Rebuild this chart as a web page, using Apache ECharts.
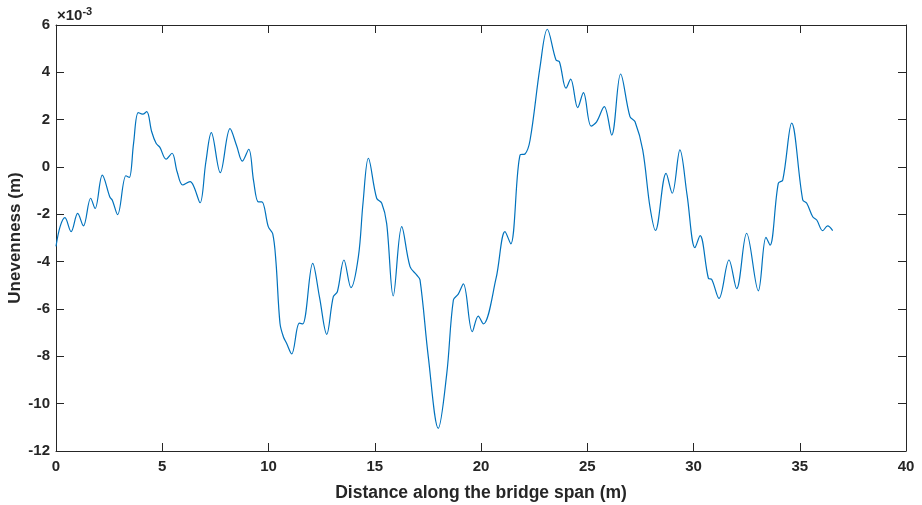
<!DOCTYPE html>
<html>
<head>
<meta charset="utf-8">
<script src="https://cdn.jsdelivr.net/npm/echarts@6/dist/echarts.min.js"></script>
<style>
html,body{margin:0;padding:0;background:#fff;}
#chart{width:922px;height:505px;}
</style>
</head>
<body>
<div id="chart"></div>
<script>
// Distance along the bridge span (m)
const distance = [
  0, 0.2, 0.42, 0.71, 1.02, 1.29, 1.63, 1.84, 2.18, 2.54, 2.65, 2.90, 3.29, 3.45, 3.65, 3.87,
  4.08, 4.27, 4.50, 4.71, 4.89, 5.18, 5.46, 5.70, 5.96, 6.31, 6.49, 6.78, 7.05, 7.31, 7.73,
  8.19, 8.50, 8.77, 9.07, 9.30, 9.52, 9.69, 9.99, 10.2, 10.35, 10.54, 10.70, 10.85, 11.09,
  11.45, 11.61, 12.08, 12.40, 12.74, 13.05, 13.24, 13.55, 13.88, 14.23, 14.45, 14.70, 15.09,
  15.33, 15.56, 15.87, 16.27, 16.66, 16.97, 17.13, 17.52, 17.99, 18.39, 18.70, 18.93, 19.17,
  19.59, 19.87, 20.11, 20.71, 21.13, 21.40, 21.84, 22.07, 22.31, 22.78, 23.12, 23.53, 23.69,
  24.00, 24.22, 24.55, 24.82, 25.18, 25.44, 25.80, 26.15, 26.57, 27.01, 27.25, 27.61, 27.95,
  28.21, 28.71, 29.00, 29.36, 29.70, 30.07, 30.31, 30.70, 30.86, 31.20, 31.67, 32.03, 32.50,
  33.05, 33.41, 33.60, 33.99, 34.20, 34.62, 35.14, 35.33, 35.61, 35.80, 36.08, 36.31, 36.55
];
// Unevenness (x 10^-3 m)
const unevenness = [
  -3.35, -2.5, -2.14, -2.73, -1.96, -2.49, -1.32, -1.75, -0.34, -1.28, -1.40, -2.01, -0.37, -0.44, 1.0, 2.30,
  2.23, 2.34, 1.5, 1.00, 0.83, 0.33, 0.58, -0.2, -0.76, -0.62, -0.83, -1.51, 0.2, 1.45, -0.24,
  1.62, 0.9, 0.25, 0.75, -0.6, -1.47, -1.47, -2.52, -2.83, -4.0, -6.60, -7.17, -7.45, -7.90,
  -6.60, -6.63, -4.07, -5.5, -7.07, -5.48, -5.27, -3.93, -5.10, -3.79, -1.5, 0.37, -1.32,
  -1.53, -2.38, -5.45, -2.52, -4.21, -4.56, -4.77, -8.02, -11.04, -8.72, -5.62, -5.37, -4.94,
  -6.96, -6.30, -6.63, -4.70, -2.73, -3.25, 0.51, 0.55, 1.14, 4.24, 5.82, 4.52, 4.45,
  3.33, 3.71, 2.51, 3.14, 1.73, 1.91, 2.55, 1.35, 3.93, 2.13, 1.91, 0.72, -1.68,
  -2.68, -0.27, -1.11, 0.72, -1.2, -3.41, -2.90, -4.70, -4.75, -5.55, -3.93, -5.14, -2.80,
  -5.23, -2.97, -3.30, -0.69, -0.55, 1.85, -1.39, -1.53, -2.10, -2.24, -2.69, -2.49, -2.69
];
const xTicks = [0, 5, 10, 15, 20, 25, 30, 35, 40];
const yTicks = [-12, -10, -8, -6, -4, -2, 0, 2, 4, 6];

const chart = echarts.init(document.getElementById('chart'), null, {renderer: 'canvas'});
const FONT = '"Liberation Sans", Arial, Helvetica, sans-serif';
const lineStyleAxis = {color: '#262626', width: 1};
const data = distance.map((d, i) => [d, unevenness[i]]);

const baseX = {
  type: 'value', min: xTicks[0], max: xTicks[xTicks.length - 1], interval: 5,
  splitLine: {show: false},
  axisLine: {show: true, onZero: false, lineStyle: lineStyleAxis},
  axisTick: {show: true, inside: true, length: 8, lineStyle: lineStyleAxis}
};
const baseY = {
  type: 'value', min: yTicks[0], max: yTicks[yTicks.length - 1], interval: 2,
  splitLine: {show: false},
  axisLine: {show: true, onZero: false, lineStyle: lineStyleAxis},
  axisTick: {show: true, inside: true, length: 8, lineStyle: lineStyleAxis}
};

chart.setOption({
  animation: false,
  backgroundColor: '#ffffff',
  grid: {left: 56, right: 16, top: 25, bottom: 54, containLabel: false, outerBoundsMode: 'none'},
  xAxis: [
    Object.assign({}, baseX, {
      position: 'bottom',
      name: 'Distance along the bridge span (m)',
      nameLocation: 'middle', nameGap: 33, nameMoveOverlap: false,
      nameTextStyle: {fontFamily: FONT, fontWeight: 'bold', fontSize: 17.5, color: '#262626'},
      axisLabel: {show: true, margin: 8, fontFamily: FONT, fontWeight: 'bold', fontSize: 15, color: '#262626'}
    }),
    Object.assign({}, baseX, {position: 'top', axisLabel: {show: false}})
  ],
  yAxis: [
    Object.assign({}, baseY, {
      position: 'left',
      name: 'Unevenness (m)',
      nameLocation: 'middle', nameGap: 32, nameMoveOverlap: false,
      nameTextStyle: {fontFamily: FONT, fontWeight: 'bold', fontSize: 17, color: '#262626'},
      axisLabel: {show: true, margin: 6, fontFamily: FONT, fontWeight: 'bold', fontSize: 15, color: '#262626'}
    }),
    Object.assign({}, baseY, {position: 'right', axisLabel: {show: false}})
  ],
  graphic: [{
    type: 'text', left: 57, top: 6,
    style: {
      text: '×10{sup|-3}',
      font: 'bold 15px ' + FONT,
      fill: '#262626',
      rich: {sup: {fontSize: 11, fontWeight: 'bold', fontFamily: FONT, verticalAlign: 'top', padding: [0, 0, 9, 0]}}
    }
  }],
  series: [{
    type: 'line',
    data: data,
    xAxisIndex: 0, yAxisIndex: 0,
    smooth: 0.35,
    showSymbol: false,
    symbol: 'none',
    lineStyle: {color: '#0072BD', width: 1.2}
  }]
});
</script>
</body>
</html>
